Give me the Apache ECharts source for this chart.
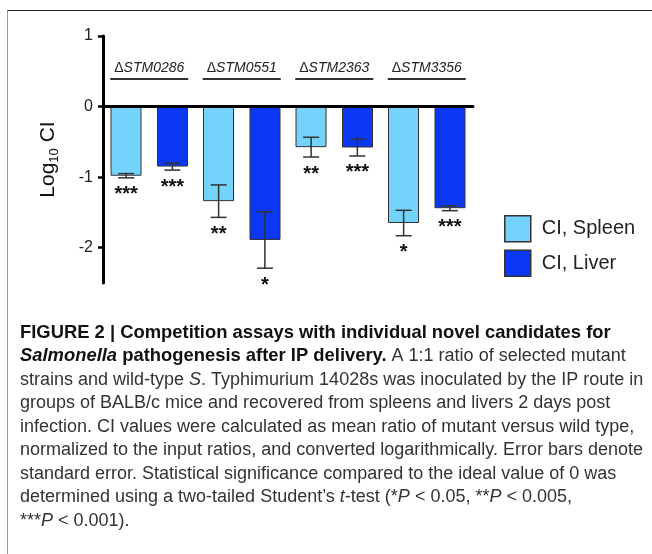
<!DOCTYPE html>
<html><head><meta charset="utf-8">
<script src="https://cdn.jsdelivr.net/npm/echarts@6/dist/echarts.min.js"></script>
<style>
html,body{margin:0;padding:0;background:#fff;}
#frame{position:absolute;left:7px;top:10px;right:0;bottom:0;border-top:1.5px solid #222;border-left:1px solid #999;}
#main{position:absolute;left:0;top:0;width:652px;height:554px;}
</style></head><body>
<div id="frame"></div><div id="main"></div>
<script>
const categories = ['ΔSTM0286', 'ΔSTM0551', 'ΔSTM2363', 'ΔSTM3356'];
const seriesNames = ['CI, Spleen', 'CI, Liver'];
const spleenMean = [-0.98, -1.34, -0.575, -1.65];
const spleenErr = [0.03, 0.23, 0.14, 0.18];
const liverMean = [-0.85, -1.89, -0.58, -1.44];
const liverErr = [0.05, 0.40, 0.12, 0.035];
const spleenStars = ['***', '**', '**', '*'];
const liverStars = ['***', '*', '***', '***'];
const yTicks = [1, 0, -1, -2];

const FF = '"Liberation Sans", Arial, Helvetica, sans-serif';

function errSeries(means, errs, stars, side) {
  return {
    type: 'custom', silent: true, z: 4, clip: false,
    data: means.map((m, i) => [i, m, errs[i]]),
    encode: { x: 0, y: 1 },
    renderItem(params, api) {
      const i = api.value(0), m = api.value(1), e = api.value(2);
      const band = api.size([1, 0])[0];
      const c = api.coord([i, m]);
      const x = c[0] + side * band * 0.25;
      const yt = api.coord([i, m + e])[1], yb = api.coord([i, m - e])[1];
      const st = { stroke: '#333', lineWidth: 1.5 };
      return { type: 'group', children: [
        { type: 'line', shape: { x1: x, y1: yt, x2: x, y2: yb }, style: st },
        { type: 'line', shape: { x1: x - 8, y1: yt, x2: x + 8, y2: yt }, style: st },
        { type: 'line', shape: { x1: x - 8, y1: yb, x2: x + 8, y2: yb }, style: st },
        { type: 'text', x: x, y: yb + 7, style: { text: stars[params.dataIndex], font: 'bold 20px ' + FF, fill: '#111', align: 'center', verticalAlign: 'top' } }
      ]};
    }
  };
}

const caption = [
  '{b|FIGURE 2 | Competition assays with individual novel candidates for}',
  '{bi|Salmonella}{b| pathogenesis after IP delivery.}{n| A 1:1 ratio of selected mutant}',
  '{n|strains and wild-type }{i|S}{n|. Typhimurium 14028s was inoculated by the IP route in}',
  '{n|groups of BALB/c mice and recovered from spleens and livers 2 days post}',
  '{n|infection. CI values were calculated as mean ratio of mutant versus wild type,}',
  '{n|normalized to the input ratios, and converted logarithmically. Error bars denote}',
  '{n|standard error. Statistical significance compared to the ideal value of 0 was}',
  '{n|determined using a two-tailed Student’s }{i|t}{n|-test (*}{i|P}{n| < 0.05, **}{i|P}{n| < 0.005,}',
  '{n|***}{i|P}{n| < 0.001).}'
].join('\n');

const CN = 18, CB = 18.4, LH = 23.5;
const chart = echarts.init(document.getElementById('main'), null, { renderer: 'canvas' });
chart.setOption({
  animation: false,
  backgroundColor: 'transparent',
  grid: { left: 103, right: 179, top: 36, bottom: 271, outerBoundsMode: 'none', containLabel: false },
  title: {
    left: 20, top: 321, padding: 0,
    text: caption,
    textStyle: {
      lineHeight: LH, fontWeight: 'normal', fontSize: CN, fontFamily: FF,
      rich: {
        b: { fontFamily: FF, fontSize: CB, fontWeight: 'bold', color: '#111', lineHeight: LH },
        bi: { fontFamily: FF, fontSize: CB, fontWeight: 'bold', fontStyle: 'italic', color: '#111', lineHeight: LH },
        n: { fontFamily: FF, fontSize: CN, fontWeight: 'normal', color: '#333', lineHeight: LH },
        i: { fontFamily: FF, fontSize: CN, fontWeight: 'normal', fontStyle: 'italic', color: '#333', lineHeight: LH }
      }
    }
  },
  legend: {
    orient: 'vertical', left: 504, top: 215, padding: 0, itemWidth: 26, itemHeight: 26, itemGap: 7,
    icon: 'rect', data: seriesNames,
    itemStyle: { borderColor: '#333', borderWidth: 1.5 },
    textStyle: { fontSize: 20, color: '#222', fontFamily: FF, padding: [0, 0, 0, 6] }
  },
  xAxis: {
    type: 'category', data: categories, position: 'top', z: 5,
    axisLine: { onZero: true, lineStyle: { color: '#000', width: 3 } },
    axisTick: { show: false },
    axisLabel: {
      margin: -44, interval: 0,
      formatter: v => '{d|Δ}{i|' + v.slice(1) + '}\n{u| }',
      rich: {
        d: { fontSize: 14, fontFamily: FF, color: '#222', lineHeight: 20 },
        i: { fontSize: 14, fontFamily: FF, fontStyle: 'italic', color: '#222', lineHeight: 20 },
        u: { width: 78, height: 2, lineHeight: 2, fontSize: 2, backgroundColor: '#333' }
      }
    }
  },
  yAxis: {
    type: 'value', min: -2.5, max: 1,
    axisLine: { show: true, lineStyle: { color: '#000', width: 3 } },
    axisTick: { show: true, length: 5, lineStyle: { color: '#000', width: 2.5 }, customValues: yTicks },
    axisLabel: { customValues: yTicks, fontSize: 16, color: '#222', margin: 10, fontFamily: FF },
    splitLine: { show: false },
    name: '{a|Log}{s|10}{a| CI}', nameLocation: 'middle', nameGap: 42,
    nameTextStyle: {
      rich: {
        a: { fontSize: 21, fontFamily: FF, color: '#111', lineHeight: 26 },
        s: { fontSize: 13, fontFamily: FF, color: '#111', lineHeight: 14, verticalAlign: 'bottom' }
      }
    }
  },
  series: [
    { name: seriesNames[0], type: 'bar', data: spleenMean, barWidth: 31, barGap: '50%', z: 2,
      itemStyle: { color: '#74D3FB', borderColor: '#333', borderWidth: 1 } },
    { name: seriesNames[1], type: 'bar', data: liverMean, barWidth: 31, barGap: '50%', z: 2,
      itemStyle: { color: '#0A38F4', borderColor: '#333', borderWidth: 1 } },
    errSeries(spleenMean, spleenErr, spleenStars, -1),
    errSeries(liverMean, liverErr, liverStars, 1)
  ]
});
</script></body></html>
